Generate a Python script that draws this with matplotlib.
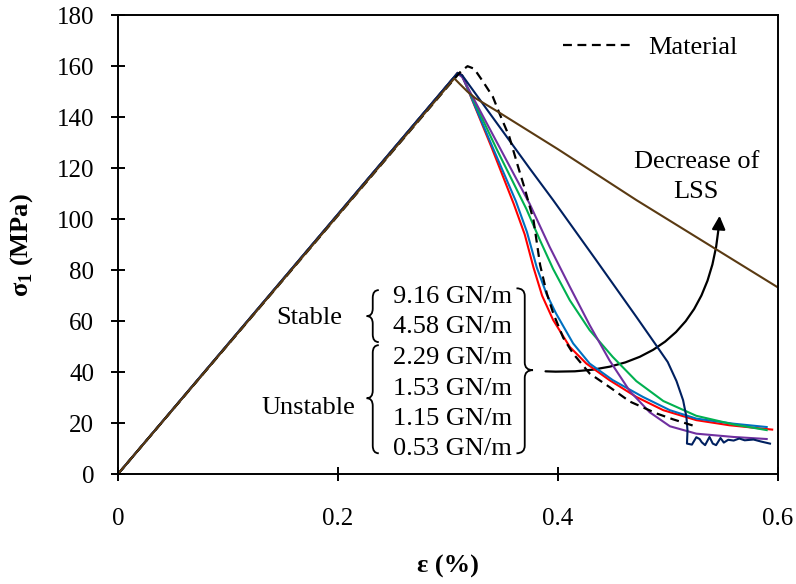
import matplotlib
matplotlib.use('Agg')
import matplotlib.pyplot as plt
from matplotlib.path import Path
from matplotlib.patches import PathPatch, FancyArrowPatch

plt.rcParams['font.family'] = ['Liberation Serif', 'DejaVu Serif']
plt.rcParams['mathtext.fontset'] = 'custom'
plt.rcParams['mathtext.rm'] = 'Liberation Serif'
plt.rcParams['mathtext.bf'] = 'Liberation Serif:bold'

# material (dashed)
mat_x = [0, 0.300, 0.312, 0.318, 0.324, 0.332, 0.341, 0.347, 0.356, 0.364, 0.370,
         0.378, 0.384, 0.390, 0.396, 0.405, 0.414, 0.429, 0.447, 0.4655, 0.490, 0.505, 0.525]
mat_y = [0, 152, 158, 160, 159, 154, 148, 141.5, 132.3, 120.5, 112,
         99.6, 82, 71, 63, 53.5, 47.3, 39.5, 34.2, 28.5, 23.8, 21.5, 18.8]

# 9.16 GN/m
red_x = [0, 0.305, 0.309, 0.313, 0.340, 0.360, 0.370, 0.378, 0.3858, 0.3958, 0.411, 0.426,
         0.447, 0.4715, 0.496, 0.526, 0.556, 0.595]
red_y = [0, 155.3, 157.4, 156.5, 128, 106, 94, 81, 70, 60.5, 49.9, 43.4,
         36.9, 30.3, 25.1, 21.2, 19.2, 17.5]

# 4.58 GN/m
blue_x = [0, 0.305, 0.309, 0.313, 0.340, 0.362, 0.372, 0.381, 0.390, 0.3985, 0.414, 0.429,
          0.450, 0.4775, 0.502, 0.526, 0.560, 0.590]
blue_y = [0, 155.3, 157.2, 156.3, 129, 107, 95, 81, 70.5, 63, 51.3, 43.4,
          36.9, 30.3, 25.1, 21.8, 19.8, 18.5]

# 2.29 GN/m
green_x = [0, 0.305, 0.309, 0.313, 0.345, 0.3715, 0.3836, 0.3958, 0.411, 0.429, 0.450,
           0.4715, 0.496, 0.526, 0.560, 0.590]
green_y = [0, 155.3, 157.2, 156.2, 127, 104, 92, 80.5, 68.2, 56.5, 46,
           36.5, 28.7, 22.9, 19.5, 17.3]

# 1.53 GN/m
purple_x = [0, 0.305, 0.309, 0.313, 0.3745, 0.3927, 0.411, 0.429, 0.447, 0.4655,
            0.4836, 0.502, 0.526, 0.560, 0.590]
purple_y = [0, 155.3, 157, 155.8, 106, 89.1, 73.5, 58.5, 44.7, 32.6,
            24.3, 18.8, 15.9, 14.6, 13.8]

# 1.15 GN/m
navy_x = [0, 0.305, 0.309, 0.313, 0.3745, 0.3958, 0.435, 0.4715, 0.488, 0.500, 0.508, 0.514,
          0.517, 0.518, 0.5175, 0.522, 0.526, 0.529, 0.531, 0.534, 0.538, 0.541, 0.544,
          0.548, 0.551, 0.555, 0.560, 0.565, 0.570, 0.578, 0.585, 0.593]
navy_y = [0, 155.3, 157.4, 156.5, 119.9, 107.5, 83.9, 61.7, 51.5, 44, 36.5, 29,
          22.5, 17, 12, 11.6, 14.5, 13.8, 12.5, 11.4, 14.6, 12, 11.4,
          14.2, 12.4, 13.5, 13.2, 14, 13.3, 13.6, 12.8, 12]

# 0.53 GN/m
brown_x = [0, 0.306, 0.311, 0.318, 0.325, 0.345, 0.400, 0.4715, 0.600]
brown_y = [0, 155.2, 153, 150, 147.5, 142.3, 127.5, 107.5, 73.3]

lss_labels = ['9.16 GN/m', '4.58 GN/m', '2.29 GN/m', '1.53 GN/m', '1.15 GN/m', '0.53 GN/m']
lss_y = [67.0, 55.2, 43.3, 30.9, 19.2, 7.4]

fig, ax = plt.subplots(figsize=(7.96, 5.84), dpi=100)
fig.subplots_adjust(left=0.148, right=0.977, bottom=0.188, top=0.974)

lw = 1.5
ax.plot(red_x, red_y, color='#FF0000', lw=lw)
ax.plot(blue_x, blue_y, color='#0070C0', lw=lw)
ax.plot(green_x, green_y, color='#00B050', lw=lw)
ax.plot(purple_x, purple_y, color='#7030A0', lw=lw)
ax.plot(navy_x, navy_y, color='#002060', lw=lw)
mat_line, = ax.plot(mat_x, mat_y, color='black', lw=1.6, dashes=(4, 2.5))
ax.plot(brown_x, brown_y, color='#5A3A12', lw=lw)

ax.set_xlim(0, 0.6)
ax.set_ylim(0, 180)
ax.set_xticks([0, 0.2, 0.4, 0.6])
ax.set_xticklabels(['0', '0.2', '0.4', '0.6'])
ax.set_yticks(range(0, 181, 20))
ax.tick_params(direction='inout', length=10, width=1.4, labelsize=18)
ax.tick_params(axis='x', pad=19)
ax.tick_params(axis='y', pad=12)
for s in ax.spines.values():
    s.set_linewidth(1.4)

ax.set_xlabel('ε (%)', fontsize=19, fontweight='bold')
ax.set_ylabel('σ$_\\mathbf{1}$ (MPa)', fontsize=19, fontweight='bold')
ax.xaxis.set_label_coords(0.5, -0.175)
ax.yaxis.set_label_coords(-0.125, 0.5)

ax.legend([mat_line], ['Material'], loc='center left', bbox_to_anchor=(0.674, 0.930),
          frameon=False, fontsize=19, handlelength=2.75, handletextpad=0.5,
          borderpad=0, borderaxespad=0)

# brace texts
for lab, yy in zip(lss_labels, lss_y):
    ax.text(0.25, yy, lab, fontsize=19, ha='left', va='baseline')
ax.text(0.1745, 59.0, 'Stable', fontsize=19, ha='center', va='baseline')
ax.text(0.1732, 23.7, 'Unstable', fontsize=19, ha='center', va='baseline')
ax.text(0.526, 116.5, 'Decrease of\nLSS', fontsize=19, ha='center', va='center',
        linespacing=1.45)


def brace(xs, y0, y1, c, ym=None, h=3.0):
    # curly brace along x = xs from y0 (bottom) to y1 (top), tip at xs - c
    if ym is None:
        ym = (y0 + y1) / 2
    verts = [(xs + c, y1), (xs, y1), (xs, y1 - h),
             (xs, ym + h),
             (xs, ym), (xs - c, ym),
             (xs, ym), (xs, ym - h),
             (xs, y0 + h),
             (xs, y0), (xs + c, y0)]
    codes = [Path.MOVETO, Path.CURVE3, Path.CURVE3,
             Path.LINETO,
             Path.CURVE3, Path.CURVE3,
             Path.CURVE3, Path.CURVE3,
             Path.LINETO,
             Path.CURVE3, Path.CURVE3]
    ax.add_patch(PathPatch(Path(verts, codes), fill=False, lw=1.3, color='black'))


brace(0.2318, 51.8, 72.2, 0.0055)
brace(0.2318, 8.2, 50.6, 0.0055, ym=29.8)
brace(0.370, 8.2, 72.9, -0.0075, ym=40.8)

arrow = FancyArrowPatch((0.3864, 40.4), (0.5473, 102.4), connectionstyle='arc3,rad=0.5',
                        arrowstyle='-|>', mutation_scale=20, lw=1.6, color='black')
ax.add_patch(arrow)

fig.savefig('out.png', dpi=100)
